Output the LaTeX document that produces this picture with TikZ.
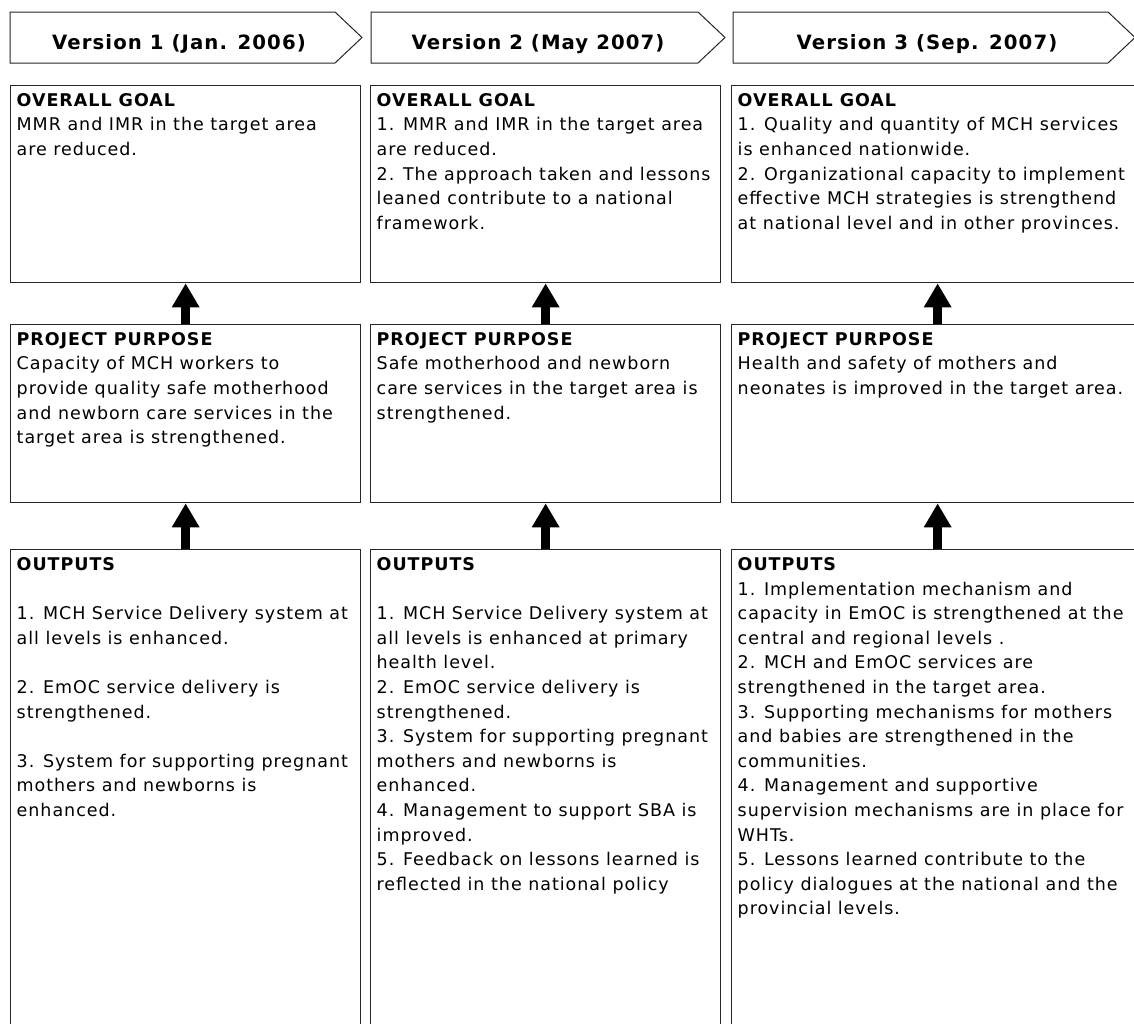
\documentclass[tikz,border=0pt]{standalone}
\usepackage{fontspec}
\setmainfont[LetterSpace=5.5]{DejaVu Sans}
\usetikzlibrary{arrows.meta}

\tikzset{
  box/.style={draw=black!85, line width=1.3pt, rectangle, inner sep=0pt, anchor=north west},
  hdr/.style={draw=black!85, line width=1pt, fill=white},
  hdrtext/.style={font=\fontsize{19.7pt}{23pt}\selectfont\bfseries, anchor=base, inner sep=0pt},
  boxtext/.style={font=\fontsize{17.5pt}{24.6pt}\selectfont, align=left, anchor=north west, inner sep=0pt},
  bigarrow/.style={line width=9pt, -{Triangle[width=26pt,length=24pt]}}
}

\begin{document}
\begin{tikzpicture}[x=1pt,y=-1pt]
\clip (0,0) rectangle (1134,1023);
\fill[white] (0,0) rectangle (1134,1023);

% version headers
\draw[hdr] (10,12) -- (335,12) -- (362,37.5) -- (335,63) -- (10,63) -- cycle;
\draw[hdr] (371,12) -- (698,12) -- (725,37.5) -- (698,63) -- (371,63) -- cycle;
\draw[hdr] (733,12) -- (1108,12) -- (1135,37.5) -- (1108,63) -- (733,63) -- cycle;
\node[hdrtext] (h1) at (179,49) {Version 1 (Jan. 2006)};
\node[hdrtext] (h2) at (538,49) {Version 2 (May 2007)};
\node[hdrtext] (h3) at (927,49) {Version 3 (Sep. 2007)};

% overall goal row
\node[box, minimum width=350pt, minimum height=197pt] (og1) at (10,85) {};
\node[box, minimum width=350pt, minimum height=197pt] (og2) at (370,85) {};
\node[box, minimum width=412pt, minimum height=197pt] (og3) at (731,85) {};

% project purpose row
\node[box, minimum width=350pt, minimum height=178pt] (pp1) at (10,324) {};
\node[box, minimum width=350pt, minimum height=178pt] (pp2) at (370,324) {};
\node[box, minimum width=412pt, minimum height=178pt] (pp3) at (731,324) {};

% outputs row
\node[box, minimum width=350pt, minimum height=490pt] (out1) at (10,549) {};
\node[box, minimum width=350pt, minimum height=490pt] (out2) at (370,549) {};
\node[box, minimum width=412pt, minimum height=490pt] (out3) at (731,549) {};

% texts
\node[boxtext] (tog1) at (16.5,93.2) {\textbf{OVERALL GOAL}\\
MMR and IMR in the target area\\
are reduced.};
\node[boxtext] (tog2) at (376.5,93.2) {\textbf{OVERALL GOAL}\\
1. MMR and IMR in the target area\\
are reduced.\\
2. The approach taken and lessons\\
leaned contribute to a national\\
framework.};
\node[boxtext] (tog3) at (737.5,93.2) {\textbf{OVERALL GOAL}\\
1. Quality and quantity of MCH services\\
is enhanced nationwide.\\
2. Organizational capacity to implement\\
effective MCH strategies is strengthend\\
at national level and in other provinces.};

\node[boxtext] (tpp1) at (16.5,332.2) {\textbf{PROJECT PURPOSE}\\
Capacity of MCH workers to\\
provide quality safe motherhood\\
and newborn care services in the\\
target area is strengthened.};
\node[boxtext] (tpp2) at (376.5,332.2) {\textbf{PROJECT PURPOSE}\\
Safe motherhood and newborn\\
care services in the target area is\\
strengthened.};
\node[boxtext] (tpp3) at (737.5,332.2) {\textbf{PROJECT PURPOSE}\\
Health and safety of mothers and\\
neonates is improved in the target area.};

\node[boxtext] (tout1) at (16.5,557.2) {\textbf{OUTPUTS}\\[24.6pt]
1. MCH Service Delivery system at\\
all levels is enhanced.\\[24.6pt]
2. EmOC service delivery is\\
strengthened.\\[24.6pt]
3. System for supporting pregnant\\
mothers and newborns is\\
enhanced.};
\node[boxtext] (tout2) at (376.5,557.2) {\textbf{OUTPUTS}\\[24.6pt]
1. MCH Service Delivery system at\\
all levels is enhanced at primary\\
health level.\\
2. EmOC service delivery is\\
strengthened.\\
3. System for supporting pregnant\\
mothers and newborns is\\
enhanced.\\
4. Management to support SBA is\\
improved.\\
5. Feedback on lessons learned is\\
reflected in the national policy};
\node[boxtext] (tout3) at (737.5,557.2) {\textbf{OUTPUTS}\\
1. Implementation mechanism and\\
capacity in EmOC is strengthened at the\\
central and regional levels .\\
2. MCH and EmOC services are\\
strengthened in the target area.\\
3. Supporting mechanisms for mothers\\
and babies are strengthened in the\\
communities.\\
4. Management and supportive\\
supervision mechanisms are in place for\\
WHTs.\\
5. Lessons learned contribute to the\\
policy dialogues at the national and the\\
provincial levels.};

% arrows between levels
\draw[bigarrow] (pp1.north) -- (og1.south);
\draw[bigarrow] (pp2.north) -- (og2.south);
\draw[bigarrow] (pp3.north) -- (og3.south);
\draw[bigarrow] (out1.north) -- (pp1.south);
\draw[bigarrow] (out2.north) -- (pp2.south);
\draw[bigarrow] (out3.north) -- (pp3.south);
\end{tikzpicture}
\end{document}
